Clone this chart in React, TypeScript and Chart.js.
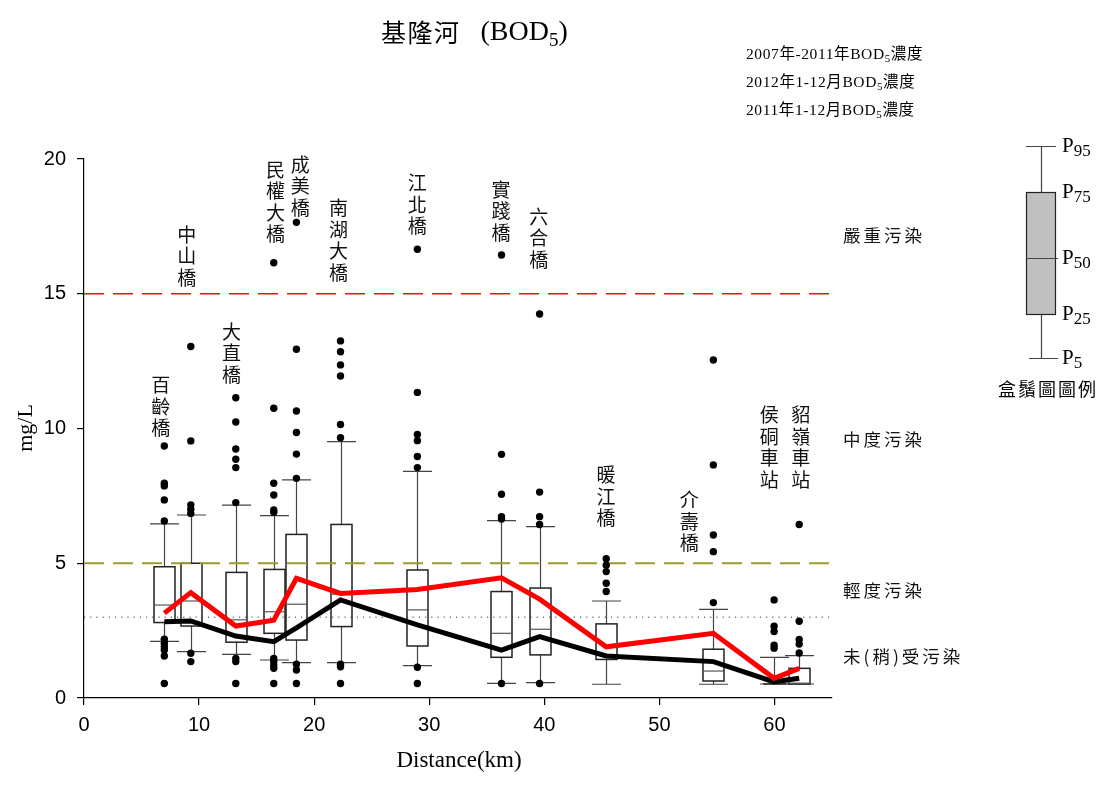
import React, { useEffect, useRef } from "react";
import { Chart, registerables } from "chart.js";
Chart.register(...registerables);

// ---------------- data ----------------
const stations = ["百齡橋", "中山橋", "大直橋", "民權大橋", "成美橋", "南湖大橋", "江北橋", "實踐橋", "六合橋", "暖江橋", "介壽橋", "侯硐車站", "貂嶺車站"];
const distanceKm = [6.98, 9.28, 13.19, 16.49, 18.46, 22.29, 28.97, 36.28, 39.59, 45.38, 54.69, 59.97, 62.15];

// 2007-2011 BOD5 percentiles
const p5 = [2.1, 1.72, 1.62, 1.41, 1.31, 1.31, 1.2, 0.54, 0.57, 0.51, 0.51, 0.52, 0.52];
const p25 = [2.8, 2.67, 2.07, 2.4, 2.15, 2.65, 1.93, 1.51, 1.6, 1.43, 0.63, 0.52, 0.52];
const p50 = [3.45, 3.6, 2.9, 3.2, 3.48, 3.85, 3.27, 2.4, 2.55, 1.6, 1.0, 0.52, 0.55];
const p75 = [4.87, 5.0, 4.66, 4.77, 6.07, 6.44, 4.75, 3.95, 4.08, 2.75, 1.81, 0.53, 1.1];
const p95 = [6.46, 6.79, 7.16, 6.77, 8.09, 9.51, 8.41, 6.58, 6.36, 3.6, 3.29, 1.51, 1.57];
const outliers = [
  [9.35, 7.97, 7.87, 7.35, 6.57, 2.18, 2.03, 1.9, 1.78, 1.56, 0.54],
  [13.04, 9.54, 7.16, 7.0, 6.85, 1.66, 1.35],
  [11.14, 10.24, 9.24, 8.86, 8.55, 7.25, 1.47, 1.35, 0.54],
  [16.15, 10.75, 7.97, 7.53, 6.98, 6.89, 1.47, 1.35, 1.22, 1.1, 0.54],
  [17.65, 12.94, 10.65, 9.85, 9.05, 8.15, 1.25, 1.04, 0.54],
  [13.25, 12.85, 12.36, 11.95, 10.15, 9.66, 1.25, 1.16, 0.54],
  [16.65, 11.34, 9.78, 9.55, 8.96, 8.55, 1.14, 0.54],
  [16.44, 9.04, 7.56, 6.73, 6.64, 0.54],
  [14.25, 7.64, 6.73, 6.44, 0.54],
  [5.17, 4.93, 4.69, 4.26, 3.95],
  [12.54, 8.65, 6.05, 5.43, 3.54],
  [3.64, 2.66, 2.47, 1.96, 1.85],
  [6.44, 2.85, 2.17, 2.0, 1.67],
];

// monthly averages
const bod2012 = [3.15, 3.91, 2.67, 2.89, 4.44, 3.88, 4.03, 4.46, 3.67, 1.9, 2.4, 0.73, 1.1];
const bod2011 = [2.83, 2.86, 2.3, 2.09, 2.6, 3.64, 2.71, 1.78, 2.28, 1.56, 1.35, 0.6, 0.73];

// station label anchors (km, value of first character)
const labelKm = [6.66, 8.92, 12.82, 16.65, 18.79, 22.11, 28.95, 36.24, 39.51, 45.36, 52.59, 59.54, 62.29];
const labelVal = [11.62, 17.19, 13.6, 19.6, 19.79, 18.18, 19.11, 18.86, 17.87, 8.27, 7.34, 10.5, 10.5];

const thresholds = [15, 5, 3];
const zoneNames = ["嚴重污染", "中度污染", "輕度污染", "未(稍)受污染"];
const zoneVals = [17.15, 9.61, 4.0, 1.55];

const xMin = 0, xMax = 65, xStep = 10;
const yMin = 0, yMax = 20, yStep = 5;

const legendLines = [
  [["2007年-2011年BOD", false], ["5", true], ["濃度", false]],
  [["2012年1-12月BOD", false], ["5", true], ["濃度", false]],
  [["2011年1-12月BOD", false], ["5", true], ["濃度", false]],
];
const legendPct = ["95", "75", "50", "25", "5"];

// ---------------- drawing helpers ----------------
const SERIF = "'Liberation Serif', 'Noto Sans CJK TC', serif";
const CJK = "'Noto Sans CJK TC', sans-serif";

function drawRich(ctx: CanvasRenderingContext2D, x: number, y: number, parts: any[], size: number, subSize: number, subDy: number) {
  let cx = x;
  for (const [t, sub] of parts) {
    ctx.font = `${sub ? subSize : size}px ${SERIF}`;
    ctx.fillText(t, cx, y + (sub ? subDy : 0));
    cx += ctx.measureText(t).width;
  }
}

const boxPlugin = {
  id: "boxplots",
  beforeDatasetsDraw(chart: any) {
    const { ctx, scales } = chart;
    const x = scales.x, y = scales.y;
    ctx.save();
    for (let i = 0; i < distanceKm.length; i++) {
      const cx = Math.round(x.getPixelForValue(distanceKm[i])) + 0.5;
      const half = 10.5, cap = 14.5;
      const y5 = y.getPixelForValue(p5[i]);
      const y25 = y.getPixelForValue(p25[i]);
      const y50 = y.getPixelForValue(p50[i]);
      const y75 = y.getPixelForValue(p75[i]);
      const y95 = y.getPixelForValue(p95[i]);
      ctx.strokeStyle = "#444";
      ctx.lineWidth = 1.2;
      ctx.beginPath();
      ctx.moveTo(cx, y95); ctx.lineTo(cx, y75);
      ctx.moveTo(cx, y25); ctx.lineTo(cx, y5);
      ctx.moveTo(cx - cap, y95); ctx.lineTo(cx + cap, y95);
      ctx.moveTo(cx - cap, y5); ctx.lineTo(cx + cap, y5);
      ctx.stroke();
      ctx.strokeStyle = "#222";
      ctx.lineWidth = 1.5;
      ctx.strokeRect(cx - half, y75, half * 2, y25 - y75);
      ctx.strokeStyle = "#555";
      ctx.lineWidth = 1.2;
      ctx.beginPath();
      ctx.moveTo(cx - half, y50); ctx.lineTo(cx + half, y50);
      ctx.stroke();
    }
    ctx.restore();
  },
  afterDraw(chart: any) {
    const { ctx, scales, chartArea } = chart;
    const x = scales.x, y = scales.y;
    ctx.save();
    ctx.fillStyle = "#111";
    ctx.textBaseline = "middle";

    // station labels (vertical)
    ctx.textAlign = "center";
    ctx.font = `19px ${CJK}`;
    for (let i = 0; i < stations.length; i++) {
      const lx = x.getPixelForValue(labelKm[i]);
      const ly = y.getPixelForValue(labelVal[i]);
      [...stations[i]].forEach((ch, k) => ctx.fillText(ch, lx, ly + k * 21.5));
    }

    // zone labels
    ctx.textAlign = "left";
    ctx.font = `17.5px ${CJK}`;
    (ctx as any).letterSpacing = "3px";
    zoneNames.forEach((t, i) => ctx.fillText(t, chartArea.right + 11, y.getPixelForValue(zoneVals[i])));
    (ctx as any).letterSpacing = "0px";

    // title
    ctx.fillStyle = "#000";
    ctx.font = `25px ${CJK}`;
    (ctx as any).letterSpacing = "1.5px";
    ctx.fillText("基隆河", 381, 32);
    let tx = 381 + ctx.measureText("基隆河").width + 20;
    (ctx as any).letterSpacing = "0px";
    drawRich(ctx, tx, 33, [["(BOD", false], ["5", true], [")", false]], 28, 19, 8);

    // top legend texts
    (ctx as any).letterSpacing = "0.6px";
    legendLines.forEach((parts, i) => drawRich(ctx, 746, 55 + i * 28, parts, 15.5, 11, 4));
    (ctx as any).letterSpacing = "0px";

    // axis titles
    ctx.font = `23px ${SERIF}`;
    ctx.textAlign = "center";
    ctx.fillText("Distance(km)", 459, 761);
    ctx.save();
    ctx.translate(26, 428);
    ctx.rotate(-Math.PI / 2);
    ctx.font = `22px ${SERIF}`;
    ctx.fillText("mg/L", 0, 0);
    ctx.restore();

    // box-plot key
    const kx = 1041.5;
    const ky = [146.5, 192.5, 258.5, 314.5, 358.5];
    ctx.fillStyle = "#c0c0c0";
    ctx.fillRect(1026.5, ky[1], 29, ky[3] - ky[1]);
    ctx.strokeStyle = "#222";
    ctx.lineWidth = 1.2;
    ctx.strokeRect(1026.5, ky[1], 29, ky[3] - ky[1]);
    ctx.strokeStyle = "#444";
    ctx.beginPath();
    ctx.moveTo(kx, ky[0]); ctx.lineTo(kx, ky[1]);
    ctx.moveTo(kx, ky[3]); ctx.lineTo(kx, ky[4]);
    ctx.moveTo(1026, ky[0]); ctx.lineTo(1056, ky[0]);
    ctx.moveTo(1029, ky[4]); ctx.lineTo(1058, ky[4]);
    ctx.moveTo(1026.5, ky[2]); ctx.lineTo(1058, ky[2]);
    ctx.stroke();
    ctx.fillStyle = "#000";
    ctx.textAlign = "left";
    legendPct.forEach((p, i) => drawRich(ctx, 1062, ky[i], [["P", false], [p, true]], 21, 17, 5));
    ctx.font = `18px ${CJK}`;
    ctx.textAlign = "center";
    (ctx as any).letterSpacing = "2px";
    ctx.fillText("盒鬚圖圖例", 1048, 389);
    (ctx as any).letterSpacing = "0px";
    ctx.restore();
  },
};

export default function App() {
  const ref = useRef<HTMLCanvasElement | null>(null);
  useEffect(() => {
    if (!ref.current) return;
    const pts = (vals: number[]) => vals.map((v, i) => ({ x: distanceKm[i], y: v }));
    const outlierPts: { x: number; y: number }[] = [];
    outliers.forEach((arr, i) => arr.forEach((v) => outlierPts.push({ x: distanceKm[i], y: v })));
    const refLine = (v: number) => [{ x: xMin, y: v }, { x: xMax, y: v }];

    const chart = new Chart(ref.current, {
      type: "scatter",
      data: {
        datasets: [
          { label: "2012年1-12月BOD5濃度", data: pts(bod2012), showLine: true, borderColor: "#ff0000", borderWidth: 5, pointRadius: 0, fill: false },
          { label: "2011年1-12月BOD5濃度", data: pts(bod2011), showLine: true, borderColor: "#000000", borderWidth: 5, pointRadius: 0, fill: false },
          { label: "outliers", data: outlierPts, pointRadius: 3.7, backgroundColor: "#000", borderColor: "#000", borderWidth: 0 },
          { label: "15", data: refLine(thresholds[0]), showLine: true, borderColor: "#ee1111", borderWidth: 1.5, borderDash: [20, 9], pointRadius: 0 },
          { label: "5", data: refLine(thresholds[1]), showLine: true, borderColor: "#9c9c2c", borderWidth: 2, borderDash: [20, 9], pointRadius: 0 },
          { label: "3", data: refLine(thresholds[2]), showLine: true, borderColor: "#333", borderWidth: 1, borderDash: [1.2, 5], pointRadius: 0 },
        ] as any,
      },
      options: {
        animation: false,
        responsive: false,
        devicePixelRatio: 1,
        layout: { padding: { left: 0, top: 159, right: 281, bottom: 0 } },
        plugins: { legend: { display: false }, tooltip: { enabled: false }, title: { display: false } },
        scales: {
          x: {
            type: "linear",
            min: xMin,
            max: xMax,
            ticks: { stepSize: xStep, color: "#000", font: { family: "'Liberation Sans', Arial, sans-serif", size: 20 }, padding: 8, maxRotation: 0 },
            afterBuildTicks: (s: any) => { s.ticks = s.ticks.filter((t: any) => t.value % xStep === 0); },
            afterFit: (s: any) => { s.height = 89; },
            grid: { drawOnChartArea: false, drawTicks: true, tickLength: 7, color: "#000", lineWidth: 1.2 },
            border: { display: true, color: "#000", width: 1.2 },
          },
          y: {
            type: "linear",
            min: yMin,
            max: yMax,
            ticks: { stepSize: yStep, color: "#000", font: { family: "'Liberation Sans', Arial, sans-serif", size: 20 }, padding: 11 },
            afterFit: (s: any) => { s.width = 84; },
            grid: { drawOnChartArea: false, drawTicks: true, tickLength: 7, color: "#000", lineWidth: 1.2 },
            border: { display: true, color: "#000", width: 1.2 },
          },
        },
      } as any,
      plugins: [boxPlugin],
    });
    return () => chart.destroy();
  }, []);
  return (
    <div style={{ position: "fixed", left: 0, top: 0, width: 1113, height: 787, background: "#fff" }}>
      <canvas ref={ref} width={1113} height={787} style={{ display: "block" }} />
    </div>
  );
}
